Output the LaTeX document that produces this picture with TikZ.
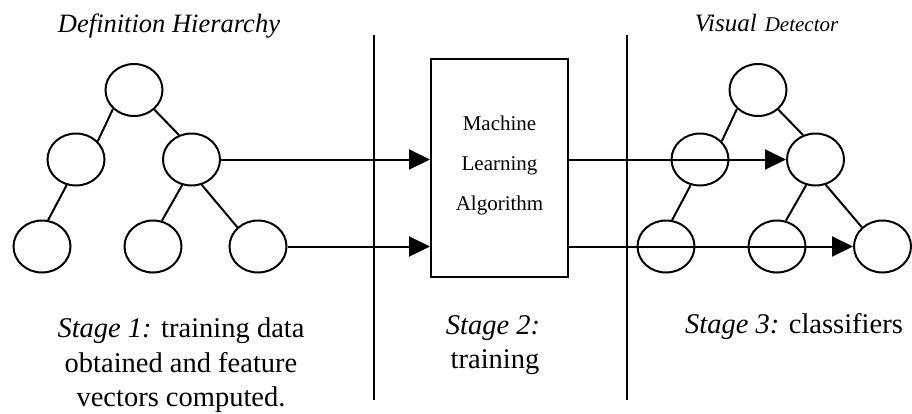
\documentclass[tikz,border=0pt]{standalone}
\usepackage{fontspec}
\setmainfont{Liberation Serif}
\usetikzlibrary{shapes.geometric,arrows.meta}
\begin{document}
\begin{tikzpicture}[x=1pt,y=-1pt,
  circ/.style={draw,ellipse,minimum width=57pt,minimum height=52pt,inner sep=0pt,line width=2pt},
  edge/.style={line width=2pt},
  arr/.style={line width=2pt,-{Triangle[length=21pt,width=20pt]}},
  divider/.style={line width=2pt},
  box/.style={draw,rectangle,line width=2pt,minimum width=137pt,minimum height=218pt,inner sep=0pt},
  boxtext/.style={font=\fontsize{21}{25}\selectfont,anchor=base,inner sep=0pt},
  stagetext/.style={font=\fontsize{28.5}{34}\selectfont,anchor=base,inner sep=0pt},
  title/.style={anchor=base,inner sep=0pt}]
\useasboundingbox (0,0) rectangle (912,413);
% titles
\node[title,font=\fontsize{26.5}{30}\selectfont] (t1) at (169,32) {\textit{Definition Hierarchy}};
\node[title] (t2) at (766.5,31) {\itshape\fontsize{25}{30}\selectfont Visual\hspace{8pt}\fontsize{21}{25}\selectfont Detector};
% dividers
\coordinate (d1t) at (374,35);
\coordinate (d1b) at (374,400);
\coordinate (d2t) at (627,35);
\coordinate (d2b) at (627,400);
\draw[divider] (d1t) -- (d1b);
\draw[divider] (d2t) -- (d2b);
% left tree
\node[circ] (a1) at (134,90) {};
\node[circ] (a2) at (76,159.5) {};
\node[circ] (a3) at (191.5,159.5) {};
\node[circ] (a4) at (42,246.5) {};
\node[circ] (a5) at (153,246.5) {};
\node[circ] (a6) at (258,246.5) {};
\draw[edge] (a1.222) -- (a2.40);
\draw[edge] (a1.316) -- (a3.117);
\draw[edge] (a2.250) -- (a4.77);
\draw[edge] (a3.250) -- (a5.71);
\draw[edge] (a3.292) -- (a6.137);
% right tree
\node[circ] (b1) at (758,90) {};
\node[circ] (b2) at (700,159.5) {};
\node[circ] (b3) at (815.5,159.5) {};
\node[circ] (b4) at (666,246.5) {};
\node[circ] (b5) at (777,246.5) {};
\node[circ] (b6) at (882.5,246.5) {};
\draw[edge] (b1.222) -- (b2.40);
\draw[edge] (b1.316) -- (b3.117);
\draw[edge] (b2.250) -- (b4.77);
\draw[edge] (b3.250) -- (b5.71);
\draw[edge] (b3.292) -- (b6.137);
% box
\node[box] (box) at (499.5,168) {};
\node[boxtext] (m1) at (499.5,130) {Machine};
\node[boxtext] (m2) at (499.5,170) {Learning};
\node[boxtext] (m3) at (499.5,210) {Algorithm};
% arrows
\draw[arr] (a3.east) -- (a3.east -| box.west);
\draw[arr] (a6.east) -- (a6.east -| box.west);
\draw[arr] (a3.east -| box.east) -- (b3.west);
\draw[arr] (a6.east -| box.east) -- (b6.west);
% stage texts
\node[stagetext] (s1a) at (181,337) {\textit{Stage 1:} training data};
\node[stagetext] (s1b) at (181,372) {obtained and feature};
\node[stagetext] (s1c) at (181,406) {vectors computed.};
\node[stagetext] (s2a) at (493,334) {\textit{Stage 2:}};
\node[stagetext] (s2b) at (495,368) {training};
\node[stagetext] (s3) at (794,333) {\textit{Stage 3:} classifiers};
\end{tikzpicture}
\end{document}
